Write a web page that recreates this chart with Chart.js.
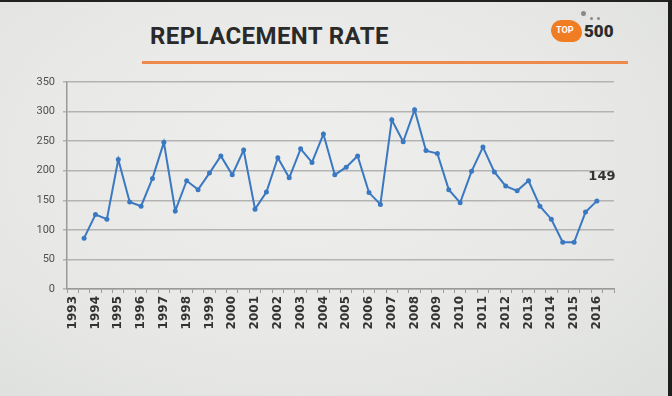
<!DOCTYPE html>
<html>
<head>
<meta charset="utf-8">
<script src="https://cdn.jsdelivr.net/npm/chart.js@4/dist/chart.umd.min.js"></script>
<style>
  html, body { margin:0; padding:0; }
  body { width:672px; height:396px; overflow:hidden; position:relative;
         background: radial-gradient(ellipse at 45% 40%, #eeefed 0%, #e8e9e6 55%, #dddfdc 100%); font-family: Roboto, "DejaVu Sans", sans-serif; }
  #topbar { position:absolute; left:0; top:0; width:672px; height:2px; background:#222; }
  #rightbar { position:absolute; right:0; top:0; width:4px; height:396px; background:#1e1e1e; }
  #title { position:absolute; left:150px; top:22px; font-size:24px; font-weight:700; color:#2a2a2a; letter-spacing:0.4px; }
  #rule { position:absolute; left:142px; top:61px; width:486px; height:3px; background:#ee8a4c; }
  #logo-blob { position:absolute; left:551px; top:20px; width:31px; height:22px; background:#f07d22; border-radius:10px 13px 9px 12px; }
  #logo-top { position:absolute; left:556px; top:25px; font-size:9px; font-weight:700; color:#fff; }
  #logo-500 { position:absolute; left:584px; top:21px; font-size:17px; font-weight:900; color:#2b2b2b; }
  .dot { position:absolute; border-radius:50%; background:#8a8a8a; }
  #wrap { position:absolute; left:0; top:0; width:672px; height:396px; }
</style>
</head>
<body data-page="chart">
<div id="topbar"></div>
<div id="rightbar"></div>
<div id="title">REPLACEMENT RATE</div>
<div id="rule"></div>
<div id="logo-blob"></div>
<div id="logo-top">TOP</div>
<div id="logo-500">500</div>
<div class="dot" style="left:581px;top:11px;width:5px;height:5px;"></div>
<div class="dot" style="left:590px;top:17px;width:3px;height:3px;"></div>
<div class="dot" style="left:597px;top:17px;width:3px;height:3px;"></div>
<div id="wrap"><canvas id="chart" width="672" height="396"></canvas></div>
<script>
// TOP500 lists, June and November, 1993 to 2016
const years = [1993,1994,1995,1996,1997,1998,1999,2000,2001,2002,2003,2004,2005,2006,2007,2008,2009,2010,2011,2012,2013,2014,2015,2016];
const tickLabels = [];
years.forEach(function(y){ tickLabels.push(String(y)); tickLabels.push(""); });

// replacement rate per list (first June 1993 and last Nov 2016 empty)
const replacement = [null,
  86, 126, 118, 219, 147, 140, 187, 248, 132, 183,
  168, 196, 225, 193, 235, 135, 164, 222, 188, 237,
  214, 262, 193, 206, 225, 163, 143, 286, 249, 303,
  234, 229, 168, 146, 199, 240, 198, 174, 166, 183,
  140, 118, 79, 79, 130, 149,
  null];

const lastIndex = 46;
const lastLabel = "149";

// Étiquette de la dernière valeur
const lastValueLabel = {
  id: 'lastValueLabel',
  afterDatasetsDraw(chart) {
    const pt = chart.getDatasetMeta(0).data[lastIndex];
    const ctx = chart.ctx;
    ctx.save();
    ctx.font = "bold 13px 'DejaVu Sans', sans-serif";
    ctx.fillStyle = "#333";
    ctx.textAlign = "center";
    ctx.textBaseline = "middle";
    ctx.fillText(lastLabel, pt.x + 5, pt.y - 24);
    ctx.restore();
  }
};

new Chart(document.getElementById("chart"), {
  type: "line",
  data: {
    labels: tickLabels,
    datasets: [{
      data: replacement,
      borderColor: "#3b78c2",
      backgroundColor: "#3b78c2",
      borderWidth: 2,
      pointRadius: 2.5,
      pointBorderWidth: 0,
      tension: 0,
      spanGaps: false
    }]
  },
  options: {
    responsive: false,
    animation: false,
    layout: { padding: { top: 82, right: 58, bottom: 47, left: 0 } },
    plugins: { legend: { display: false }, tooltip: { enabled: false } },
    scales: {
      x: {
        offset: true,
        afterFit: function(s){ s.height = 60; },
        grid: { offset: true, drawOnChartArea: false, tickLength: 4, color: "#9a9a9a" },
        border: { color: "#9a9a9a", width: 1.5 },
        ticks: { autoSkip: false, minRotation: 90, maxRotation: 90, padding: 3,
                 color: "#333", font: { size: 12, weight: "bold", family: "'DejaVu Sans', sans-serif" } }
      },
      y: {
        min: 0, max: 350,
        afterFit: function(s){ s.width = 67; },
        grid: { color: "#b3b3b3", lineWidth: 1.5, tickLength: 4 },
        border: { color: "#9a9a9a", width: 1.5 },
        ticks: { stepSize: 50, padding: 8, color: "#505050",
                 font: { size: 11, family: "Roboto, 'DejaVu Sans', sans-serif" } }
      }
    }
  },
  plugins: [lastValueLabel]
});
</script>
</body>
</html>
